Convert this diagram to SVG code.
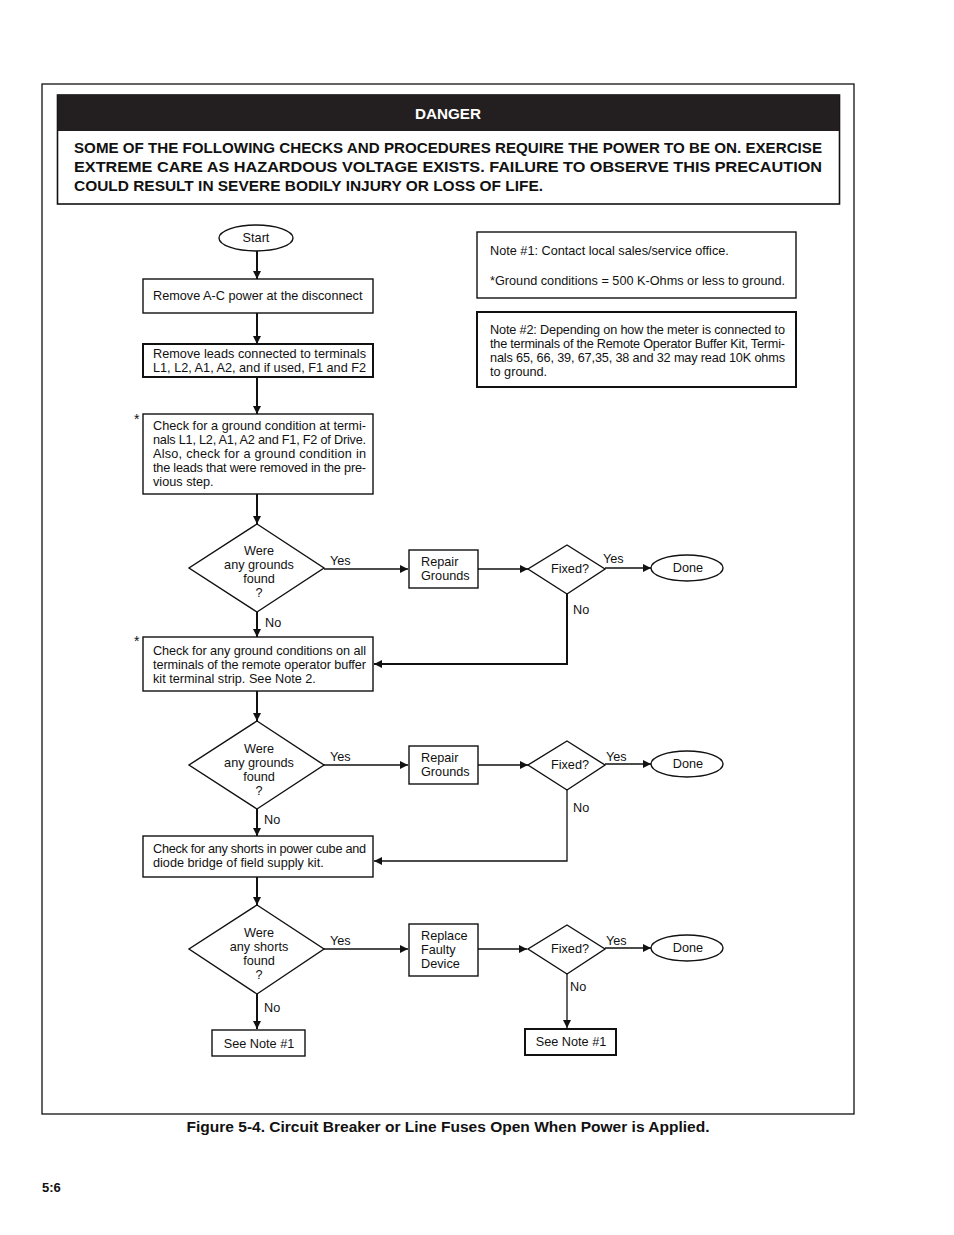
<svg xmlns="http://www.w3.org/2000/svg" width="954" height="1235" viewBox="0 0 954 1235">
<style>
text{font-family:"Liberation Sans",Arial,sans-serif;font-size:12.7px;fill:#111}
.c{text-anchor:middle}
.b{font-weight:bold}
.n{fill:#fff;stroke:#111;stroke-width:1.4}
.t{fill:#fff;stroke:#111;stroke-width:2}
.ln{fill:none;stroke:#111;stroke-width:1.3}
.lt{fill:none;stroke:#111;stroke-width:2}
</style>
<defs>
<marker id="a" viewBox="0 0 10 10" refX="10" refY="5" markerWidth="10" markerHeight="8" markerUnits="userSpaceOnUse" orient="auto"><path d="M0,0 L10,5 L0,10 Z" fill="#111"/></marker>
</defs>
<rect width="954" height="1235" fill="#fff"/>
<rect x="42" y="84" width="812" height="1030" fill="none" stroke="#111" stroke-width="1.3"/>
<g id="danger">
<rect x="57.5" y="95" width="782" height="109" fill="#fff" stroke="#111" stroke-width="1.6"/>
<rect x="57.5" y="95" width="782" height="36" fill="#231f20"/>
<text x="448" y="119" class="c b" style="font-size:15px;fill:#fff" textLength="66" lengthAdjust="spacingAndGlyphs">DANGER</text>
<text x="74" y="153" class="b" style="font-size:15.5px" textLength="748" lengthAdjust="spacingAndGlyphs">SOME OF THE FOLLOWING CHECKS AND PROCEDURES REQUIRE THE POWER TO BE ON. EXERCISE</text>
<text x="74" y="172" class="b" style="font-size:15.5px" textLength="748" lengthAdjust="spacingAndGlyphs">EXTREME  CARE  AS  HAZARDOUS  VOLTAGE  EXISTS.  FAILURE  TO  OBSERVE  THIS  PRECAUTION</text>
<text x="74" y="191" class="b" style="font-size:15.5px" textLength="469" lengthAdjust="spacingAndGlyphs">COULD RESULT IN SEVERE BODILY INJURY OR LOSS OF LIFE.</text>
</g>
<g id="connectors">
<line x1="257" y1="251" x2="257" y2="279" class="lt" marker-end="url(#a)"/>
<line x1="257" y1="313" x2="257" y2="344" class="lt" marker-end="url(#a)"/>
<line x1="257" y1="377" x2="257" y2="414" class="lt" marker-end="url(#a)"/>
<line x1="257" y1="494" x2="257" y2="524" class="lt" marker-end="url(#a)"/>
<line x1="324" y1="569" x2="408" y2="569" class="ln" marker-end="url(#a)"/>
<line x1="478" y1="569" x2="528" y2="569" class="ln" marker-end="url(#a)"/>
<line x1="605" y1="568" x2="651" y2="568" class="ln" marker-end="url(#a)"/>
<polyline points="567,594 567,664 374,664" class="lt" marker-end="url(#a)"/>
<line x1="257" y1="612" x2="257" y2="637" class="lt" marker-end="url(#a)"/>
<line x1="257" y1="691" x2="257" y2="721" class="lt" marker-end="url(#a)"/>
<line x1="324" y1="765" x2="408" y2="765" class="ln" marker-end="url(#a)"/>
<line x1="478" y1="765" x2="528" y2="765" class="ln" marker-end="url(#a)"/>
<line x1="605" y1="764" x2="651" y2="764" class="ln" marker-end="url(#a)"/>
<polyline points="567,790 567,861 374,861" class="ln" marker-end="url(#a)"/>
<line x1="257" y1="809" x2="257" y2="836" class="lt" marker-end="url(#a)"/>
<line x1="257" y1="877" x2="257" y2="905" class="lt" marker-end="url(#a)"/>
<line x1="324" y1="949" x2="408" y2="949" class="ln" marker-end="url(#a)"/>
<line x1="478" y1="949" x2="527" y2="949" class="ln" marker-end="url(#a)"/>
<line x1="605" y1="948" x2="651" y2="948" class="ln" marker-end="url(#a)"/>
<line x1="567" y1="974" x2="567" y2="1028" class="ln" marker-end="url(#a)"/>
<line x1="257" y1="994" x2="257" y2="1029" class="lt" marker-end="url(#a)"/>
<text x="330" y="565">Yes</text>
<text x="603" y="563">Yes</text>
<text x="573" y="614">No</text>
<text x="265" y="627">No</text>
<text x="330" y="761">Yes</text>
<text x="606" y="761">Yes</text>
<text x="573" y="812">No</text>
<text x="264" y="824">No</text>
<text x="330" y="945">Yes</text>
<text x="606" y="945">Yes</text>
<text x="570" y="991">No</text>
<text x="264" y="1012">No</text>
</g>
<g id="start"><ellipse cx="256" cy="238" rx="37" ry="13" class="n"/><text x="256" y="242" class="c">Start</text></g>
<g id="box1"><rect x="143" y="279" width="230" height="34" class="n"/><text x="153" y="300">Remove A-C power at the disconnect</text></g>
<g id="box2"><rect x="143" y="344" width="230" height="33" class="t"/><text x="153" y="358" textLength="213" lengthAdjust="spacing">Remove leads connected to terminals</text><text x="153" y="372">L1, L2, A1, A2, and if used, F1 and F2</text></g>
<g id="box3"><text x="134" y="424" style="font-size:14px">*</text><rect x="143" y="414" width="230" height="80" class="n"/>
<text x="153" y="430" textLength="213" lengthAdjust="spacing">Check for a ground condition at termi-</text>
<text x="153" y="444" textLength="213" lengthAdjust="spacing">nals L1, L2, A1, A2 and F1, F2 of Drive.</text>
<text x="153" y="458" textLength="213" lengthAdjust="spacing">Also, check for a ground condition in</text>
<text x="153" y="472" textLength="213" lengthAdjust="spacing">the leads that were removed in the pre-</text>
<text x="153" y="486">vious step.</text></g>
<g id="dec1"><polygon points="257,524 324,568 257,612 189,568" class="n"/>
<text x="259" y="555" class="c">Were</text><text x="259" y="569" class="c">any grounds</text><text x="259" y="583" class="c">found</text><text x="259" y="597" class="c">?</text></g>
<g id="repair1"><rect x="409" y="550" width="69" height="38" class="n"/><text x="421" y="566">Repair</text><text x="421" y="580">Grounds</text></g>
<g id="fixed1"><polygon points="567,545 605,569 567,594 528,569" class="n"/><text x="570" y="573" class="c">Fixed?</text></g>
<g id="done1"><ellipse cx="687" cy="568" rx="36" ry="13" class="n"/><text x="688" y="572" class="c">Done</text></g>
<g id="box4"><text x="134" y="646" style="font-size:14px">*</text><rect x="143" y="637" width="230" height="54" class="n"/>
<text x="153" y="655" textLength="213" lengthAdjust="spacing">Check for any ground conditions on all</text>
<text x="153" y="669" textLength="213" lengthAdjust="spacing">terminals of the remote operator buffer</text>
<text x="153" y="683">kit terminal strip. See Note 2.</text></g>
<g id="dec2"><polygon points="257,721 324,765 257,809 189,765" class="n"/>
<text x="259" y="753" class="c">Were</text><text x="259" y="767" class="c">any grounds</text><text x="259" y="781" class="c">found</text><text x="259" y="795" class="c">?</text></g>
<g id="repair2"><rect x="409" y="746" width="69" height="38" class="n"/><text x="421" y="762">Repair</text><text x="421" y="776">Grounds</text></g>
<g id="fixed2"><polygon points="567,741 605,765 567,790 528,765" class="n"/><text x="570" y="769" class="c">Fixed?</text></g>
<g id="done2"><ellipse cx="687" cy="764" rx="36" ry="13" class="n"/><text x="688" y="768" class="c">Done</text></g>
<g id="box5"><rect x="143" y="836" width="230" height="41" class="n"/>
<text x="153" y="853" textLength="213" lengthAdjust="spacing">Check for any shorts in power cube and</text>
<text x="153" y="867">diode bridge of field supply kit.</text></g>
<g id="dec3"><polygon points="257,905 324,949 257,994 189,949" class="n"/>
<text x="259" y="937" class="c">Were</text><text x="259" y="951" class="c">any shorts</text><text x="259" y="965" class="c">found</text><text x="259" y="979" class="c">?</text></g>
<g id="replace"><rect x="409" y="924" width="69" height="52" class="n"/><text x="421" y="940">Replace</text><text x="421" y="954">Faulty</text><text x="421" y="968">Device</text></g>
<g id="fixed3"><polygon points="567,925 605,949 567,974 528,949" class="n"/><text x="570" y="953" class="c">Fixed?</text></g>
<g id="done3"><ellipse cx="687" cy="948" rx="36" ry="13" class="n"/><text x="688" y="952" class="c">Done</text></g>
<g id="note1a"><rect x="212" y="1030" width="93" height="26" class="n"/><text x="259" y="1048" class="c">See Note #1</text></g>
<g id="note1b"><rect x="525" y="1029" width="91" height="26" class="t"/><text x="571" y="1046" class="c">See Note #1</text></g>
<g id="note1"><rect x="477" y="232" width="319" height="66" class="n"/>
<text x="490" y="255">Note #1: Contact local sales/service office.</text>
<text x="490" y="285">*Ground conditions = 500 K-Ohms or less to ground.</text></g>
<g id="note2"><rect x="477" y="312" width="319" height="75" class="t"/>
<text x="490" y="334" textLength="295" lengthAdjust="spacing">Note #2: Depending on how the meter is connected to</text>
<text x="490" y="348" textLength="295" lengthAdjust="spacing">the terminals of the Remote Operator Buffer Kit, Termi-</text>
<text x="490" y="362" textLength="295" lengthAdjust="spacing">nals 65, 66, 39, 67,35, 38 and 32 may read 10K ohms</text>
<text x="490" y="376">to ground.</text></g>
<text x="448" y="1132" class="c b" style="font-size:15px" textLength="523" lengthAdjust="spacingAndGlyphs">Figure 5-4. Circuit Breaker or Line Fuses Open When Power is Applied.</text>
<text x="42" y="1192" class="b" style="font-size:13px">5:6</text>
</svg>
